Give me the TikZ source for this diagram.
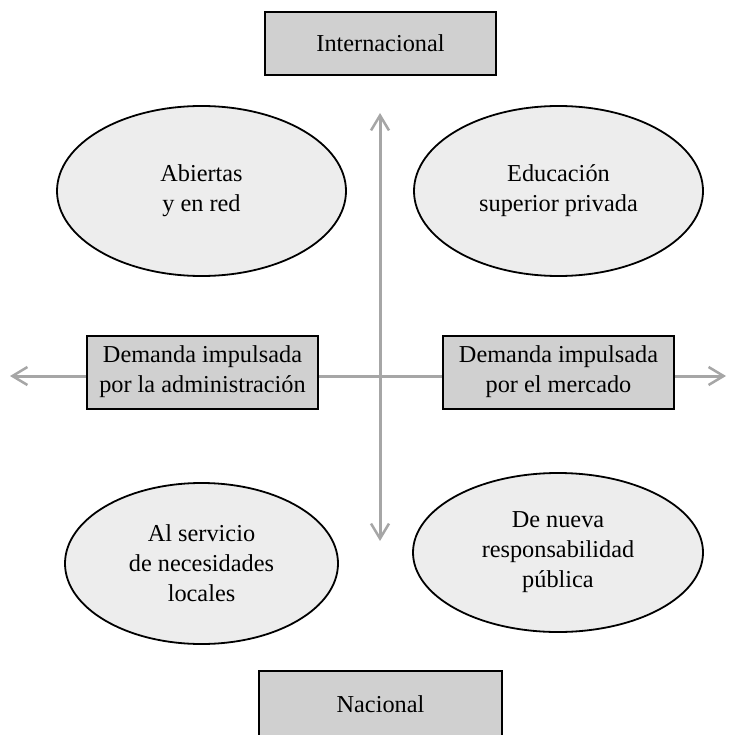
\documentclass[tikz,border=0pt]{standalone}
\usepackage{fontspec}
\setmainfont{Liberation Serif}
\usetikzlibrary{shapes.geometric,arrows.meta}
\definecolor{boxfill}{HTML}{D0D0D0}
\definecolor{ellfill}{HTML}{EDEDED}
\definecolor{axisgray}{HTML}{A6A6A6}
\tikzset{
  boxnode/.style={draw=black,line width=2pt,fill=boxfill,rectangle,inner sep=0pt,align=center,font=\fontsize{24.3}{30}\selectfont},
  ellnode/.style={draw=black,line width=1.8pt,fill=ellfill,ellipse,inner sep=0pt,align=center,font=\fontsize{24.3}{30}\selectfont},
  axisline/.style={draw=axisgray,line width=3pt,{Straight Barb[length=15pt,width=18pt,line width=2.5pt]}-{Straight Barb[length=15pt,width=18pt,line width=2.5pt]}}
}
\begin{document}
\begin{tikzpicture}[x=1pt,y=-1pt]
\useasboundingbox (0,0) rectangle (728,735);
% axes
\coordinate (L) at (10,376);
\coordinate (R) at (726,376);
\coordinate (T) at (380,113);
\coordinate (B) at (380,541);
\draw[axisline] (L) -- (R);
\draw[axisline] (T) -- (B);
% boxes
\node[boxnode,minimum width=231pt,minimum height=63pt] (int) at (380.5,43.5) {Internacional};
\node[boxnode,minimum width=243pt,minimum height=67pt] (nac) at (380.5,704.5) {Nacional};
\node[boxnode,minimum width=231pt,minimum height=73pt] (adm) at (202.5,372) {Demanda impulsada\\por la administración};
\node[boxnode,minimum width=231pt,minimum height=73pt] (mer) at (558.5,372) {Demanda impulsada\\por el mercado};
% ellipses
\node[ellnode,minimum width=289pt,minimum height=170pt] (abi) at (201.5,191) {Abiertas\\y en red};
\node[ellnode,minimum width=289pt,minimum height=170pt] (edu) at (558.5,191) {Educación\\superior privada};
\node[ellnode,minimum width=273pt,minimum height=161pt] (loc) at (201.5,563.5) {Al servicio\\de necesidades\\locales};
\node[ellnode,minimum width=290pt,minimum height=159pt] (pub) at (558,552.5) {De nueva\\responsabilidad\\pública};
\end{tikzpicture}
\end{document}
